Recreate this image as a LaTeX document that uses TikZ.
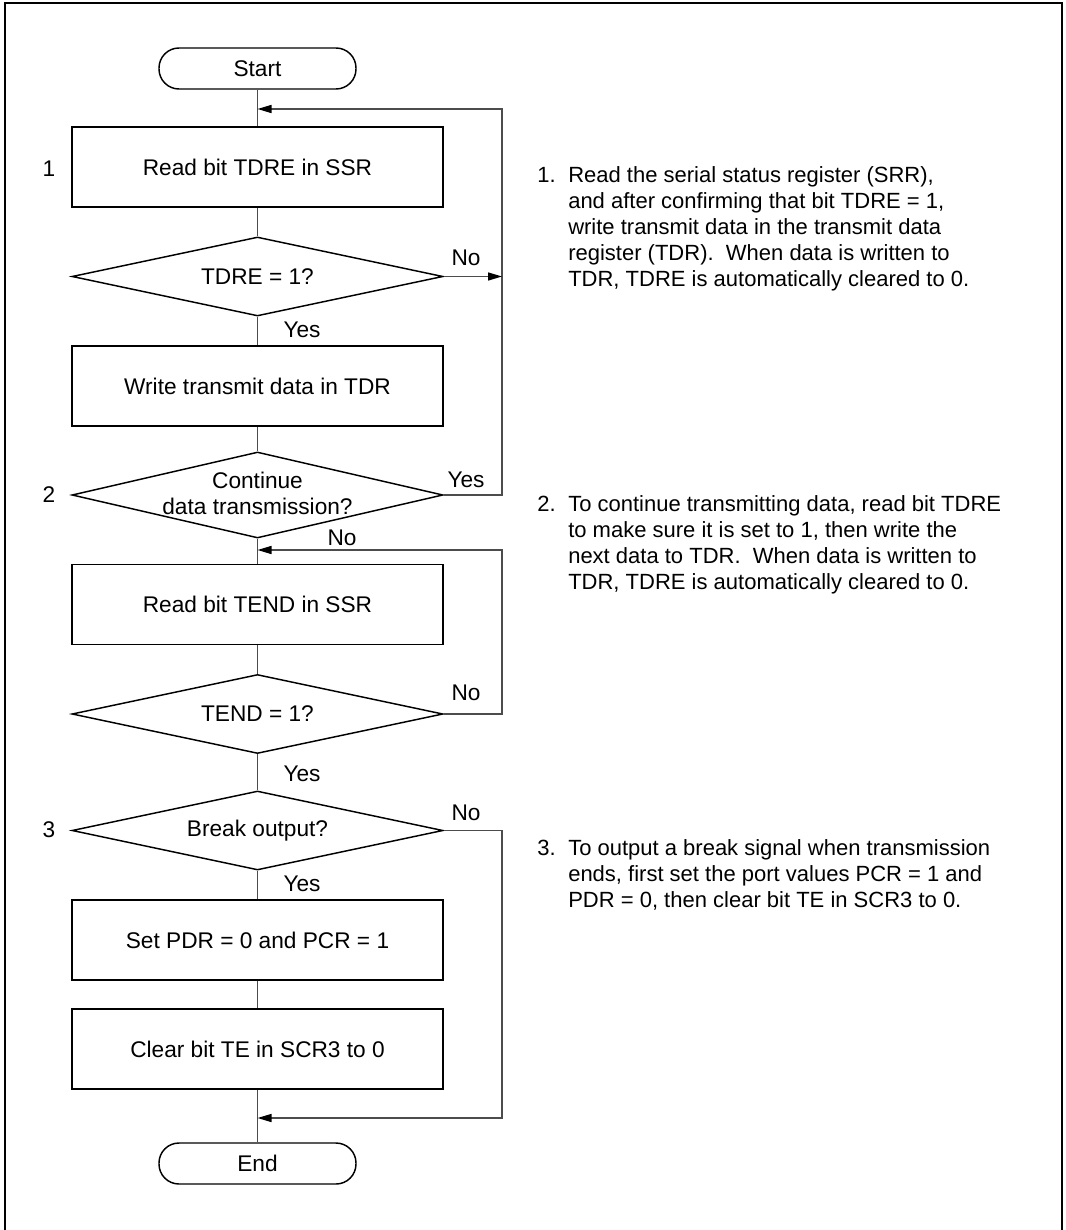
\documentclass[tikz,border=0pt]{standalone}
\usepackage{fontspec}
\setmainfont{Liberation Sans}
\usetikzlibrary{shapes.geometric,arrows.meta}
\begin{document}
\begin{tikzpicture}[x=0.75pt,y=-0.75pt,
  every node/.style={font=\fontsize{17}{19.5}\selectfont, inner sep=0pt},
  procbox/.style={draw=black, line width=1.1pt, minimum width={371*0.75pt}, minimum height={80*0.75pt}},
  termbox/.style={draw=black, line width=1.1pt, rounded corners={20*0.75pt}, minimum width={197*0.75pt}, minimum height={41*0.75pt}},
  decbox/.style={draw=black, line width=1.1pt, diamond, minimum width={371*0.75pt}, minimum height={79*0.75pt}},
  conn/.style={draw=black!70, line width=1.1pt},
  arr/.style={conn, -{Triangle[length=10.5pt,width=6pt,fill=black,color=black]}},
  lbl/.style={anchor=base},
  numl/.style={anchor=center},
  note/.style={anchor=base west, font=\fontsize{16.5}{19.5}\selectfont}
]
\useasboundingbox (0,0) rectangle (1065,1230);
% frame
\coordinate (fbl) at (5,1240);
\coordinate (ftl) at (5,3);
\coordinate (ftr) at (1062,3);
\coordinate (fbr) at (1062,1240);
\draw[line width=1.6pt] (fbl) -- (ftl) -- (ftr) -- (fbr);

% nodes
\node[termbox] (start) at (257.5,68.5) {Start};
\node[procbox] (b1) at (257.5,167) {Read bit TDRE in SSR};
\node[decbox] (d1) at (257.5,276.5) {};
\node (d1t) at (d1) {TDRE = 1?};
\node[procbox] (b2) at (257.5,386) {Write transmit data in TDR};
\node[decbox, minimum height={86*0.75pt}] (d2) at (257.5,495) {};
\node[align=center] (d2t) at (257.5,493) {Continue\\data transmission?};
\node[procbox] (b3) at (257.5,604.5) {Read bit TEND in SSR};
\node[decbox] (d3) at (257.5,714) {};
\node (d3t) at (d3) {TEND = 1?};
\node[decbox] (d4) at (257.5,830.5) {};
\node (d4t) at (d4) {Break output?};
\node[procbox] (b4) at (257.5,940) {Set PDR = 0 and PCR = 1};
\node[procbox] (b5) at (257.5,1049) {Clear bit TE in SCR3 to 0};
\node[termbox] (end) at (257.5,1163.5) {End};

% junctions
\coordinate (j1) at (257.5,109);
\coordinate (j2) at (257.5,550);
\coordinate (j3) at (257.5,1118);
\coordinate (r1) at (502,109);
\coordinate (r2) at (502,550);
\coordinate (r3) at (502,1118);

% connectors
\draw[conn] (start.south) -- (b1.north);
\draw[conn] (b1.south) -- (d1.north);
\draw[conn] (d1.south) -- (b2.north);
\draw[conn] (b2.south) -- (d2.north);
\draw[conn] (d2.south) -- (b3.north);
\draw[conn] (b3.south) -- (d3.north);
\draw[conn] (d3.south) -- (d4.north);
\draw[conn] (d4.south) -- (b4.north);
\draw[conn] (b4.south) -- (b5.north);
\draw[conn] (b5.south) -- (end.north);
\draw[arr] (d2.east) -| (r1) -- (j1);
\draw[arr] (d1.east) -- (d1.east -| r1);
\draw[arr] (d3.east) -| (r2) -- (j2);
\draw[arr] (d4.east) -| (r3) -- (j3);

% branch labels
\node[lbl] (l1) at (466,266) {No};
\node[lbl] (l2) at (302,337) {Yes};
\node[lbl] (l3) at (466,487) {Yes};
\node[lbl] (l4) at (342,545) {No};
\node[lbl] (l5) at (466,700) {No};
\node[lbl] (l6) at (302,781) {Yes};
\node[lbl] (l7) at (466,820) {No};
\node[lbl] (l8) at (302,891) {Yes};

% step numbers
\node[numl] (n1) at (49,169) {1};
\node[numl] (n2) at (49,495) {2};
\node[numl] (n3) at (49,830) {3};

% notes
\node[note] (k1) at (537,183) {1.};
\node[note] (m1) at (568,183) {\vtop{\baselineskip=19.5pt
  \hbox{Read the serial status register (SRR),}
  \hbox{and after confirming that bit TDRE = 1,}
  \hbox{write transmit data in the transmit data}
  \hbox{register (TDR).\ \ When data is written to}
  \hbox{TDR, TDRE is automatically cleared to 0.}}};
\node[note] (k2) at (537,511) {2.};
\node[note] (m2) at (568,511) {\vtop{\baselineskip=19.5pt
  \hbox{To continue transmitting data, read bit TDRE}
  \hbox{to make sure it is set to 1, then write the}
  \hbox{next data to TDR.\ \ When data is written to}
  \hbox{TDR, TDRE is automatically cleared to 0.}}};
\node[note] (k3) at (537,855) {3.};
\node[note] (m3) at (568,855) {\vtop{\baselineskip=19.5pt
  \hbox{To output a break signal when transmission}
  \hbox{ends, first set the port values PCR = 1 and}
  \hbox{PDR = 0, then clear bit TE in SCR3 to 0.}}};
\end{tikzpicture}
\end{document}
